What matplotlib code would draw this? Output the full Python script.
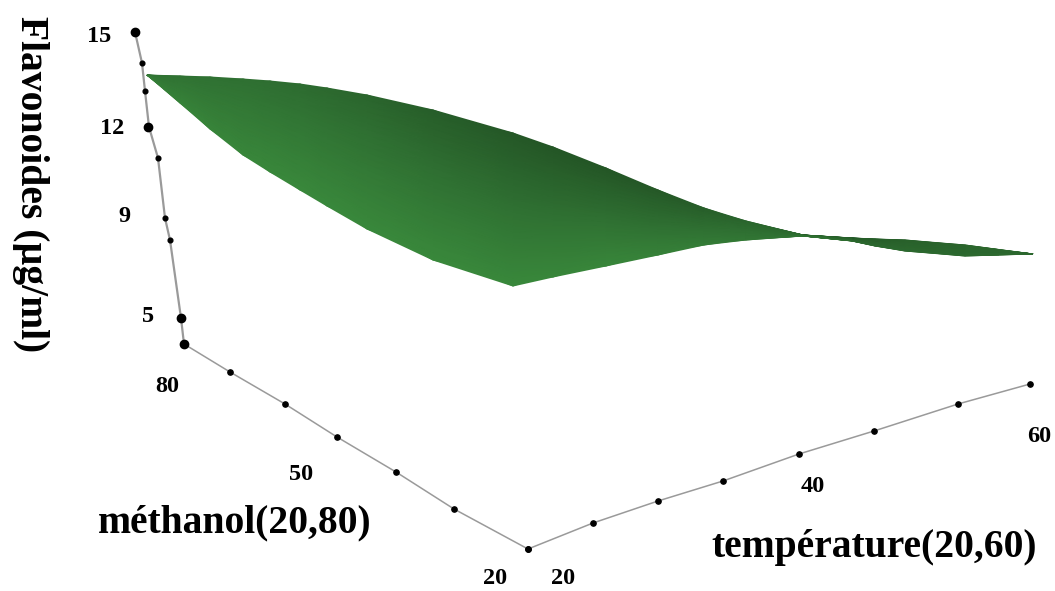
import numpy as np
import matplotlib
matplotlib.use("Agg")
import matplotlib.pyplot as plt
from matplotlib.colors import LinearSegmentedColormap

# Projected positions (image pixels)
surface_x = [147, 180, 210, 243, 270, 300, 327, 367, 433, 513, 553, 606, 658, 704, 746, 803, 852, 875, 905, 965, 1033]
surface_top = [75, 76, 77, 79, 81, 84, 88, 95, 110, 133, 147, 168, 190, 208, 221, 235, 238, 239, 240, 245, 254]
surface_bottom = [75, 103, 129, 155, 172, 190, 206, 229, 260, 286, 277, 266, 255, 245, 240, 236, 241, 246, 251, 256, 254]
shade_top = [0.55, 0.55, 0.52, 0.5, 0.46, 0.42, 0.36, 0.3, 0.15, 0.03, 0.0, 0.0, 0.05, 0.15, 0.3, 0.35, 0.1, 0.15, 0.2, 0.3, 0.35]
shade_bottom = [0.7, 0.9, 0.92, 0.95, 0.98, 1.0, 1.0, 1.0, 1.0, 1.0, 0.95, 0.95, 0.85, 0.75, 0.65, 0.55, 0.35, 0.35, 0.35, 0.35, 0.35]

z_axis_x = [135, 142, 145, 149, 158, 165, 170, 181, 184]
z_axis_y = [32, 63, 91, 127, 158, 218, 240, 318, 344]
methanol_axis_x = [184, 230, 285, 337, 396, 454, 528]
methanol_axis_y = [344, 372, 404, 437, 472, 509, 549]
temperature_axis_x = [528, 593, 658, 723, 799, 874, 958, 1030]
temperature_axis_y = [549, 523, 501, 481, 454, 431, 404, 384]
large_dot_x = [135, 148, 181, 184]
large_dot_y = [32, 127, 318, 344]

z_labels = ["15", "12", "9", "5"]
z_label_x = [99, 112, 124, 148]
z_label_y = [36, 129, 217, 317]
methanol_labels = ["80", "50", "20"]
methanol_label_x = [167, 301, 495]
methanol_label_y = [387, 474, 578]
temperature_labels = ["20", "40", "60"]
temperature_label_x = [563, 813, 1039]
temperature_label_y = [579, 487, 437]

plt.rcParams["font.family"] = ["Liberation Serif", "DejaVu Serif"]

fig = plt.figure(figsize=(10.55, 5.91), dpi=100)
ax = fig.add_axes([0, 0, 1, 1])
ax.set_xlim(0, 1055)
ax.set_ylim(591, 0)
ax.axis("off")

cmap = LinearSegmentedColormap.from_list("surf", ["#245626", "#2f7032", "#39883b"])
t = np.linspace(0, 1, 24)[:, None]
X = np.tile(np.array(surface_x, float), (t.size, 1))
top = np.array(surface_top, float)
bottom = np.array(surface_bottom, float)
Y = top + t * (bottom - top)
C = np.array(shade_top) + t * (np.array(shade_bottom) - np.array(shade_top))
ax.pcolormesh(X, Y, C, cmap=cmap, vmin=0, vmax=1, shading="gouraud", zorder=2)

axis_color = "#9a9a9a"
ax.plot(z_axis_x, z_axis_y, color=axis_color, lw=1.6, zorder=1)
ax.plot(z_axis_x, z_axis_y, ls="none", marker="o", ms=3.4, color="black", zorder=3)
for xs, ys in [(methanol_axis_x, methanol_axis_y), (temperature_axis_x, temperature_axis_y)]:
    ax.plot(xs, ys, color=axis_color, lw=1.1, zorder=1)
    ax.plot(xs, ys, ls="none", marker="o", ms=3.8, color="black", zorder=3)
ax.plot(large_dot_x, large_dot_y, ls="none", marker="o", ms=6, color="black", zorder=3)

tick_style = dict(fontsize=17.5, fontweight="bold", ha="center", va="center", color="black")
for labels, xs, ys in [(z_labels, z_label_x, z_label_y),
                       (methanol_labels, methanol_label_x, methanol_label_y),
                       (temperature_labels, temperature_label_x, temperature_label_y)]:
    for s, x, y in zip(labels, xs, ys):
        ax.text(x, y, s, **tick_style)

title_style = dict(fontsize=28.5, fontweight="bold", color="black", va="center")
ax.text(98, 523, "méthanol(20,80)", ha="left", **title_style)
ax.text(711, 547, "température(20,60)", ha="left", **title_style)
ax.text(30, 184, "Flavonoides (µg/ml)", rotation=-90, ha="center", **title_style)

fig.savefig("out.png", dpi=100)
